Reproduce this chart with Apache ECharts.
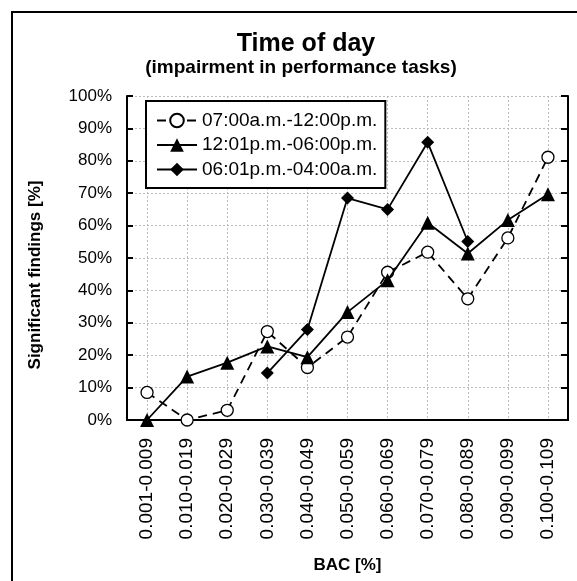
<!DOCTYPE html>
<html>
<head>
<meta charset="utf-8">
<script src="https://cdn.jsdelivr.net/npm/echarts@6/dist/echarts.min.js"></script>
<style>
  html, body { margin: 0; padding: 0; background: #fff; }
  #chart { width: 577px; height: 581px; }
</style>
</head>
<body>
<div id="chart"></div>
<script>
// BAC classes (x axis)
const categories = [
  "0.001-0.009", "0.010-0.019", "0.020-0.029", "0.030-0.039", "0.040-0.049",
  "0.050-0.059", "0.060-0.069", "0.070-0.079", "0.080-0.089", "0.090-0.099",
  "0.100-0.109"
];
// significant findings in %
const morning = [8.5, 0, 3, 27.3, 16.2, 25.6, 45.6, 51.8, 37.4, 56.2, 81.1];
const afternoon = [0, 13.4, 17.7, 22.7, 19.4, 33.3, 43.1, 60.9, 51.4, 61.7, 69.7];
const night = ["-", "-", "-", 14.5, 27.9, 68.5, 65, 85.7, 55.1, "-", "-"];
const seriesNames = ["07:00a.m.-12:00p.m.", "12:01p.m.-06:00p.m.", "06:01p.m.-04:00a.m."];

const font = "Liberation Sans, Arial, sans-serif";
let chart = echarts.init(document.getElementById("chart"));

let option = {
  backgroundColor: "#fff",
  animation: false,
  title: [
    {
      text: "Time of day",
      left: 301, top: 27, textAlign: "center",
      textStyle: { fontFamily: font, fontSize: 25, fontWeight: "bold", color: "#000" }
    },
    {
      text: "(impairment in performance tasks)",
      left: 296, top: 53, textAlign: "center",
      textStyle: { fontFamily: font, fontSize: 19, fontWeight: "bold", color: "#000" }
    }
  ],
  graphic: [
    {
      // outer frame, runs off the right and bottom edges like the original
      type: "rect",
      shape: { x: 12, y: 12, width: 640, height: 640 },
      style: { fill: null, stroke: "#000", lineWidth: 2 },
      silent: true
    }
  ],
  legend: {
    orient: "vertical",
    left: 146, top: 101,
    padding: [10, 8, 9, 10],
    itemWidth: 40, itemHeight: 17, itemGap: 5.5,
    backgroundColor: "#fff",
    borderColor: "#000", borderWidth: 2, borderRadius: 0,
    textStyle: { fontFamily: font, fontSize: 19, color: "#000", lineHeight: 19 },
    data: seriesNames
  },
  grid: { left: 127, top: 96, right: 9, bottom: 161, containLabel: false },
  xAxis: [
    {
      type: "category",
      data: categories,
      boundaryGap: true,
      name: "BAC [%]",
      nameLocation: "middle",
      nameGap: 137,
      nameTextStyle: { fontFamily: font, fontSize: 17, fontWeight: "bold", color: "#000" },
      axisLine: { lineStyle: { color: "#000", width: 2 } },
      axisTick: { inside: true, alignWithLabel: true, length: 5, lineStyle: { color: "#000", width: 2 } },
      axisLabel: { rotate: 90, margin: 18, fontFamily: font, fontSize: 19, color: "#000", interval: 0 },
      splitLine: { show: true, alignWithLabel: true, lineStyle: { color: "#bbb", type: [2, 2], width: 1 } }
    },
    {
      type: "category",
      data: categories,
      position: "top",
      boundaryGap: true,
      axisLine: { lineStyle: { color: "#000", width: 2 } },
      axisTick: { inside: true, alignWithLabel: true, length: 6, lineStyle: { color: "#000", width: 2 } },
      axisLabel: { show: false },
      splitLine: { show: false }
    }
  ],
  yAxis: [
    {
      type: "value",
      min: 0, max: 100, interval: 10,
      name: "Significant findings [%]",
      nameLocation: "middle",
      nameGap: 83,
      nameTextStyle: { fontFamily: font, fontSize: 17, fontWeight: "bold", color: "#000", padding: [0, 34, 0, 0] },
      axisLine: { show: true, lineStyle: { color: "#000", width: 2 } },
      axisTick: { show: true, inside: true, length: 6, lineStyle: { color: "#000", width: 2 } },
      axisLabel: { formatter: "{value}%", margin: 15, fontFamily: font, fontSize: 17, color: "#000" },
      splitLine: { show: true, lineStyle: { color: "#bbb", type: [2, 2], width: 1 } }
    },
    {
      type: "value",
      position: "right",
      min: 0, max: 100, interval: 10,
      axisLine: { show: true, lineStyle: { color: "#000", width: 2 } },
      axisTick: { show: true, inside: true, length: 7, lineStyle: { color: "#000", width: 2 } },
      axisLabel: { show: false },
      splitLine: { show: false }
    }
  ],
  series: [
    {
      name: seriesNames[0],
      type: "line",
      data: morning,
      symbol: "circle",
      symbolSize: 12,
      itemStyle: { color: "#fff", borderColor: "#000", borderWidth: 1.3 },
      lineStyle: { color: "#000", width: 1.8, type: [9, 6] },
      z: 2
    },
    {
      name: seriesNames[1],
      type: "line",
      data: afternoon,
      symbol: "triangle",
      symbolSize: 14,
      itemStyle: { color: "#000" },
      lineStyle: { color: "#000", width: 1.8 },
      z: 3
    },
    {
      name: seriesNames[2],
      type: "line",
      data: night,
      symbol: "diamond",
      symbolSize: 13,
      itemStyle: { color: "#000" },
      lineStyle: { color: "#000", width: 1.8 },
      z: 4
    }
  ]
};

chart.setOption(option);
</script>
</body>
</html>
